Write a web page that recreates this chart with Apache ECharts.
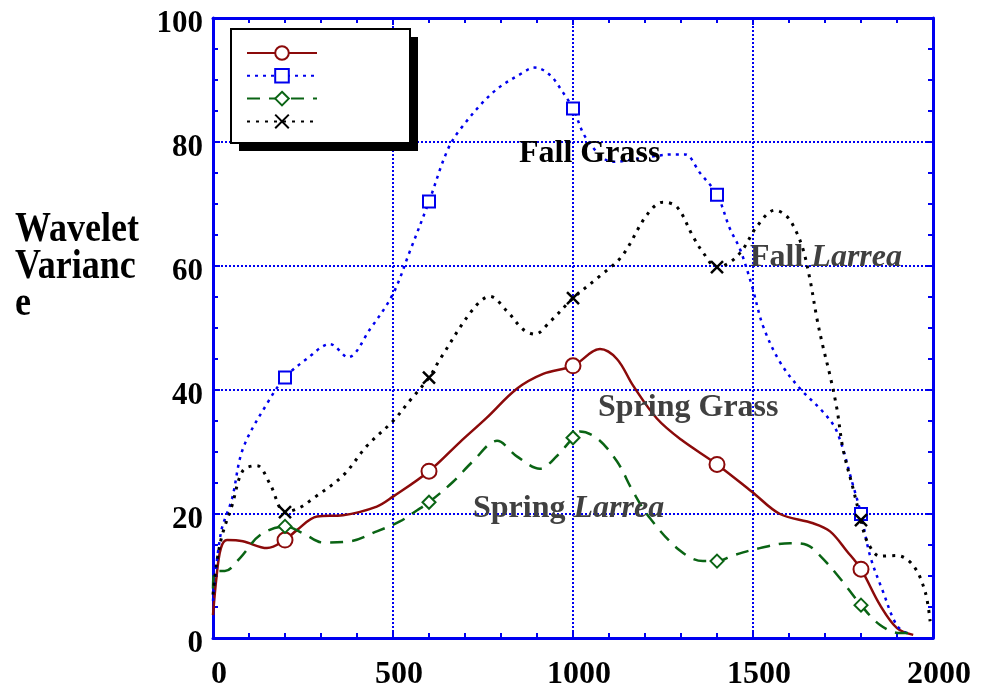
<!DOCTYPE html>
<html>
<head>
<meta charset="utf-8">
<script src="https://cdn.jsdelivr.net/npm/echarts@6/dist/echarts.min.js"></script>
<style>
  html, body { margin: 0; padding: 0; background: #fff; }
  #myChart { width: 981px; height: 691px; }
</style>
</head>
<body>
<div id="myChart"></div>
<script>
// scale (x) values and tick labels
var xTicks = [0, 500, 1000, 1500, 2000];
var yTicks = [0, 20, 40, 60, 80, 100];
var markerX = [200, 600, 1000, 1400, 1800];

// Spring Grass - solid red, circles
var springGrassX = [0, 10, 22, 39, 83, 150, 200, 233, 289, 361, 455, 500, 600, 686, 760, 844, 917, 1000, 1075, 1122, 1167, 1233, 1300, 1400, 1497, 1575, 1667, 1714, 1761, 1800, 1853, 1900, 1945];
var springGrassY = [3.7, 10, 14.5, 15.8, 15.6, 14.5, 15.8, 17.4, 19.6, 19.8, 21.2, 22.8, 26.9, 31.6, 35.5, 40.2, 42.6, 43.9, 46.6, 45, 40.7, 35.4, 32, 28, 23.6, 20, 18.5, 17.2, 14, 11.1, 5.3, 1.6, 0.5];

// Fall Grass - dotted blue, squares
var fallGrassX = [0, 22, 53, 83, 150, 200, 260, 325, 375, 436, 500, 547, 600, 650, 686, 778, 861, 894, 936, 972, 1000, 1039, 1111, 1200, 1278, 1311, 1353, 1400, 1436, 1464, 1497, 1528, 1575, 1631, 1694, 1733, 1778, 1800, 1825, 1861, 1900, 1936];
var fallGrassY = [6, 17, 22.5, 30.5, 37.8, 42, 45, 47.4, 45.3, 49.8, 55.5, 62.4, 70.4, 78.5, 82, 88, 91.2, 92, 90.8, 88, 85.4, 80.4, 76.8, 77.5, 78, 78, 75, 71.5, 66, 62.7, 56.8, 50.3, 44.5, 40.2, 36.5, 33.3, 24.6, 20, 13.3, 7.5, 2, 0.5];

// Spring Larrea - dashed green, diamonds
var springLarreaX = [0, 6, 33, 75, 131, 200, 250, 306, 381, 455, 519, 567, 600, 667, 722, 789, 844, 908, 956, 1000, 1019, 1067, 1122, 1167, 1214, 1297, 1361, 1400, 1444, 1519, 1603, 1650, 1686, 1742, 1800, 1853, 1908, 1945];
var springLarreaY = [8, 10.8, 10.8, 12.9, 16.6, 18, 16.9, 15.4, 15.6, 17.2, 18.8, 20.6, 21.9, 25.2, 28.5, 31.8, 29.3, 27.3, 29.4, 32.3, 33.3, 32.2, 28.5, 23.6, 19.3, 14.1, 12.4, 12.4, 13.3, 14.5, 15.3, 15, 13.3, 9.6, 5.3, 2.1, 0.8, 0.8];

// Fall Larrea - dotted black, crosses
var fallLarreaX = [0, 10, 25, 53, 83, 122, 158, 200, 240, 278, 361, 428, 500, 547, 600, 631, 722, 769, 817, 861, 894, 936, 1000, 1075, 1136, 1206, 1250, 1289, 1333, 1361, 1400, 1436, 1472, 1511, 1561, 1594, 1617, 1639, 1658, 1678, 1694, 1714, 1733, 1750, 1778, 1800, 1817, 1853, 1900, 1945, 1978, 1992];
var fallLarreaY = [7, 12, 16.5, 21.4, 27, 27.8, 24.9, 20.3, 21, 22.5, 26.2, 31, 35, 38.3, 42, 45, 53, 55.1, 52.7, 49.8, 49, 51, 54.8, 58.4, 61.6, 68.3, 70.3, 69.5, 64.8, 62.2, 59.8, 60.6, 62.7, 66.4, 69, 68, 65.9, 62.7, 57.9, 51.4, 47.1, 42.3, 37, 30.5, 24.1, 19, 15.6, 13.2, 13.3, 11.7, 7.5, 2.7];

var FONT = '"Liberation Serif", "Times New Roman", Times, serif';
var AXIS_BLUE = '#0000f0';

function pairs(xs, ys) {
  return xs.map(function (x, i) {
    if (markerX.indexOf(x) >= 0) return { value: [x, ys[i]] };
    return { value: [x, ys[i]], symbol: 'none' };
  });
}

function makeLine(name, xs, ys, color, dash, width, symbol, size) {
  return {
    name: name,
    type: 'line',
    data: pairs(xs, ys),
    smooth: 0.35,
    symbol: symbol,
    symbolSize: size,
    showAllSymbol: true,
    lineStyle: { color: color, width: width, type: dash },
    itemStyle: { color: color, borderColor: color, borderWidth: 2.5 },
    emphasis: { disabled: true },
    z: 3
  };
}

var chartDom = document.getElementById('myChart');
var myChart = echarts.init(chartDom, null, { renderer: 'canvas' });

var gridLine = { show: true, lineStyle: { color: AXIS_BLUE, width: 2, type: [2, 2] } };

var option = {
  animation: false,
  backgroundColor: '#fff',
  grid: { left: 213, right: 48, top: 18, bottom: 51 },
  xAxis: [
    {
      type: 'value', min: 0, max: 2000, interval: 500,
      axisLine: { show: true, lineStyle: { color: AXIS_BLUE, width: 3 } },
      axisTick: { show: true, inside: true, length: 7, lineStyle: { color: AXIS_BLUE, width: 2 } },
      minorTick: { show: true, splitNumber: 5, length: 5, lineStyle: { color: AXIS_BLUE, width: 2 } },
      splitLine: gridLine,
      axisLabel: {
        color: '#000', fontFamily: FONT, fontWeight: 'bold', fontSize: 32, margin: 21,
        padding: [0, 0, 0, 12],
        formatter: function (v) { return xTicks.indexOf(v) >= 0 ? String(v) : ''; }
      }
    },
    {
      type: 'value', min: 0, max: 2000, interval: 500, position: 'top',
      axisLine: { show: true, onZero: false, lineStyle: { color: AXIS_BLUE, width: 3 } },
      axisTick: { show: true, inside: true, length: 7, lineStyle: { color: AXIS_BLUE, width: 2 } },
      minorTick: { show: true, splitNumber: 5, length: 5, lineStyle: { color: AXIS_BLUE, width: 2 } },
      splitLine: { show: false },
      axisLabel: { show: false }
    }
  ],
  yAxis: [
    {
      type: 'value', min: 0, max: 100, interval: 20,
      axisLine: { show: true, lineStyle: { color: AXIS_BLUE, width: 3 } },
      axisTick: { show: true, inside: true, length: 7, lineStyle: { color: AXIS_BLUE, width: 2 } },
      minorTick: { show: true, splitNumber: 4, length: 5, lineStyle: { color: AXIS_BLUE, width: 2 } },
      splitLine: gridLine,
      axisLabel: {
        margin: 10,
        formatter: function (v) { return yTicks.indexOf(v) >= 0 ? '{t|' + v + '}' : ''; },
        rich: {
          t: { color: '#000', fontFamily: FONT, fontWeight: 'bold', fontSize: 31, padding: [12, 0, 0, 0] }
        }
      }
    },
    {
      type: 'value', min: 0, max: 100, interval: 20, position: 'right',
      axisLine: { show: true, onZero: false, lineStyle: { color: AXIS_BLUE, width: 3 } },
      axisTick: { show: true, inside: true, length: 7, lineStyle: { color: AXIS_BLUE, width: 2 } },
      minorTick: { show: true, splitNumber: 4, length: 5, lineStyle: { color: AXIS_BLUE, width: 2 } },
      splitLine: { show: false },
      axisLabel: { show: false }
    }
  ],
  legend: {
    data: ['Spring Grass', 'Fall Grass', 'Spring Larrea', 'Fall Larrea'],
    orient: 'vertical',
    left: 246,
    top: 44.5,
    padding: 0,
    itemWidth: 70,
    itemHeight: 17,
    itemGap: 6.5,
    selectedMode: false,
    formatter: function () { return ''; },
    z: 10
  },
  graphic: {
    elements: [
      { type: 'rect', z: 5, shape: { x: 239, y: 37, width: 179, height: 114 }, style: { fill: '#000' } },
      { type: 'rect', z: 6, shape: { x: 231, y: 29, width: 179, height: 114 }, style: { fill: '#fff', stroke: '#000', lineWidth: 2 } },
      {
        type: 'text', z: 20, x: 15, y: 211, scaleY: 1.2, originX: 0, originY: 0,
        style: {
          text: 'Wavelet\nVarianc\ne', fill: '#000', fontFamily: FONT, fontWeight: 'bold',
          fontSize: 36, lineHeight: 31, verticalAlign: 'top'
        }
      },
      {
        type: 'text', z: 20, x: 519, y: 154,
        style: { text: 'Fall Grass', fill: '#000', fontFamily: FONT, fontWeight: 'bold', fontSize: 32, verticalAlign: 'middle' }
      },
      {
        type: 'text', z: 20, x: 750, y: 258,
        style: {
          text: '{n|Fall }{i|Larrea}', verticalAlign: 'middle',
          rich: {
            n: { fill: '#404040', fontFamily: FONT, fontWeight: 'bold', fontSize: 32 },
            i: { fill: '#404040', fontFamily: FONT, fontWeight: 'bold', fontStyle: 'italic', fontSize: 32 }
          }
        }
      },
      {
        type: 'text', z: 20, x: 598, y: 408,
        style: { text: 'Spring Grass', fill: '#404040', fontFamily: FONT, fontWeight: 'bold', fontSize: 32, verticalAlign: 'middle' }
      },
      {
        type: 'text', z: 20, x: 473, y: 509,
        style: {
          text: '{n|Spring }{i|Larrea}', verticalAlign: 'middle',
          rich: {
            n: { fill: '#404040', fontFamily: FONT, fontWeight: 'bold', fontSize: 32 },
            i: { fill: '#404040', fontFamily: FONT, fontWeight: 'bold', fontStyle: 'italic', fontSize: 32 }
          }
        }
      }
    ]
  },
  series: [
    makeLine('Spring Grass', springGrassX, springGrassY, '#8b0a0a', 'solid', 2.5, 'emptyCircle', 15),
    makeLine('Fall Grass', fallGrassX, fallGrassY, '#0000ee', [3, 5], 2.5, 'emptyRect', 12),
    makeLine('Spring Larrea', springLarreaX, springLarreaY, '#0a6414', [13, 9], 2.5, 'emptyDiamond', 13),
    makeLine('Fall Larrea', fallLarreaX, fallLarreaY, '#000', [3, 6], 3, 'path://M0,0L10,10M10,0L0,10', 12)
  ]
};

option && myChart.setOption(option);
</script>
</body>
</html>
